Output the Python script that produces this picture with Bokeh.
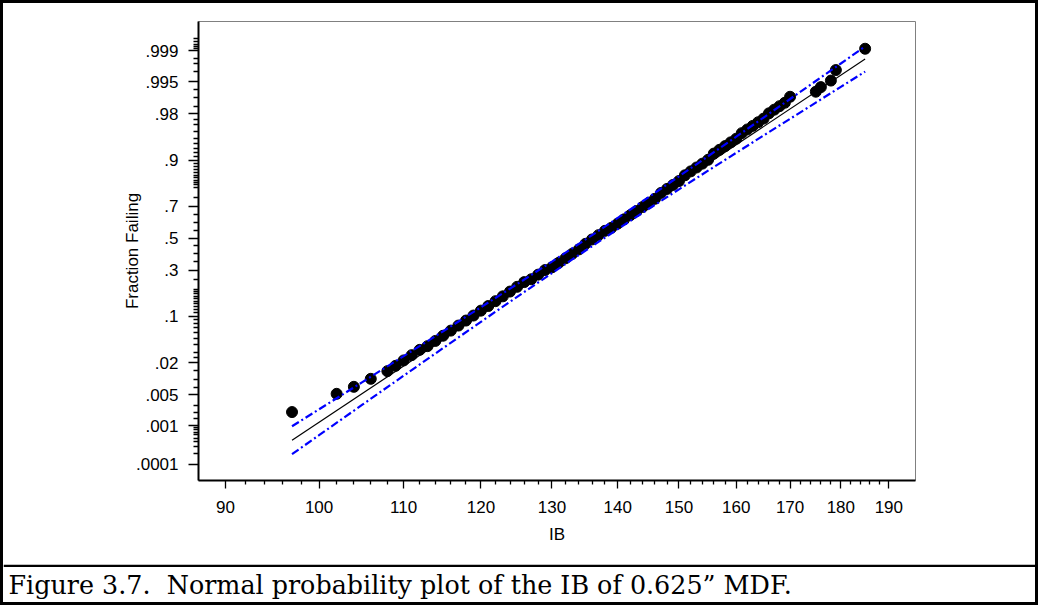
from statistics import NormalDist
from bokeh.plotting import figure
from bokeh.layouts import column
from bokeh.models import FixedTicker, Label, Range1d, Span
from bokeh.embed import file_html
from bokeh.resources import INLINE

# ---------------- data ----------------
ib = [97, 102, 104, 106,
      108, 109, 110, 111, 112, 113, 114, 115, 116, 117, 118, 119, 120,
      121, 122, 123, 124, 125, 126, 127, 128, 129, 130,
      131, 132, 133, 134, 135, 136, 137, 138, 139, 140,
      141, 142, 143, 144, 145, 146, 147, 148, 149, 150,
      151, 152, 153, 154, 155, 156, 157, 158, 159, 160,
      161, 162, 163, 164, 165, 166, 167, 168, 169, 170,
      175, 176, 178, 179, 185]
frac = [0.0021, 0.0052, 0.0072, 0.0103,
        0.0143, 0.0178, 0.0221, 0.0271, 0.0330, 0.0378, 0.0454, 0.0542, 0.0641, 0.0752, 0.0876, 0.1015, 0.1166,
        0.1322, 0.1501, 0.1694, 0.1900, 0.2119, 0.2350, 0.2496, 0.2745, 0.3003, 0.3161,
        0.3431, 0.3706, 0.3987, 0.4270, 0.4635, 0.4921, 0.5205, 0.5486, 0.5684, 0.5956,
        0.6222, 0.6480, 0.6730, 0.6970, 0.7202, 0.7422, 0.7723, 0.7917, 0.8100, 0.8271,
        0.8502, 0.8647, 0.8781, 0.8904, 0.9018, 0.9184, 0.9274, 0.9355, 0.9429, 0.9495,
        0.9583, 0.9634, 0.9679, 0.9720, 0.9756, 0.9802, 0.9829, 0.9852, 0.9872, 0.9901,
        0.9921, 0.9936, 0.9953, 0.9972, 0.9991]

fit_ib = [97, 185]
fit_frac = [0.00044, 0.99842]

band_ib = [97, 100, 105, 110, 115, 120, 125, 130, 137, 145, 150, 155, 160, 165, 170, 175, 180, 185]
upper_frac = [0.00098, 0.00242, 0.00892, 0.0261, 0.0628, 0.1278, 0.2251, 0.3505, 0.5482,
              0.7518, 0.8461, 0.9116, 0.9528, 0.9766, 0.98908, 0.99520, 0.99800, 0.99921]
lower_frac = [0.000188, 0.00059, 0.00306, 0.01179, 0.0352, 0.0843, 0.1673, 0.2830, 0.4765,
              0.6865, 0.7899, 0.8671, 0.9203, 0.9547, 0.9754, 0.98726, 0.99367, 0.99697]

x_ticks = [90, 100, 110, 120, 130, 140, 150, 160, 170, 180, 190]
y_tick_probs = [0.0001, 0.001, 0.005, 0.02, 0.1, 0.3, 0.5, 0.7, 0.9, 0.98, 0.995, 0.999]
y_tick_labels = [".0001", ".001", ".005", ".02", ".1", ".3", ".5", ".7", ".9", ".98", ".995", ".999"]
y_minor_probs = [0.0002, 0.0003, 0.0004, 0.0005, 0.0006, 0.0007, 0.0008, 0.0009,
                 0.0015, 0.002, 0.003, 0.007, 0.01, 0.015, 0.025,
                 0.03, 0.04, 0.05, 0.06, 0.07, 0.08, 0.09,
                 0.11, 0.12, 0.13, 0.14, 0.15, 0.16, 0.17, 0.18, 0.19, 0.2, 0.25,
                 0.35, 0.4, 0.45, 0.55, 0.6, 0.65, 0.75,
                 0.8, 0.81, 0.82, 0.83, 0.84, 0.85, 0.86, 0.87, 0.88, 0.89,
                 0.91, 0.92, 0.93, 0.94, 0.95, 0.96, 0.97, 0.975,
                 0.985, 0.99, 0.993, 0.997, 0.998, 0.9985,
                 0.9991, 0.9992, 0.9993, 0.9994, 0.9995]
caption = "Figure 3.7.\u00a0 Normal probability plot of the IB of 0.625\u201d MDF."

# ---------------- probability scale ----------------
nd = NormalDist()
def probit(v):
    return nd.inv_cdf(v)

p = figure(width=1032, height=561, x_axis_type="log",
           x_range=Range1d(87.3, 195.8), y_range=Range1d(-3.99, 3.57),
           output_backend="svg", toolbar_location=None, title=None,
           min_border_left=195, min_border_right=120,
           min_border_top=18, min_border_bottom=84)
p.frame_align = False
p.xgrid.visible = False
p.ygrid.visible = False
p.outline_line_color = "#808080"
p.outline_line_width = 1
p.background_fill_color = "white"
p.border_fill_color = "white"

p.scatter(ib, [probit(f) for f in frac], size=11, fill_color="black", line_color="black")
p.line(fit_ib, [probit(f) for f in fit_frac], line_color="black", line_width=1.2)
p.line(band_ib, [probit(f) for f in upper_frac], line_color="#0000ff", line_width=2.2,
       line_dash="8 3 2 3")
p.line(band_ib, [probit(f) for f in lower_frac], line_color="#0000ff", line_width=2.2,
       line_dash="8 3 2 3")

xa = p.xaxis[0]
xa.ticker = FixedTicker(ticks=x_ticks,
                        minor_ticks=[v for v in range(92, 190, 2) if v % 10 != 0])
xa.major_label_overrides = {t: str(t) for t in x_ticks}
xa.axis_line_width = 2
xa.axis_line_color = "black"
xa.major_tick_out = 8
xa.major_tick_in = 0
xa.minor_tick_out = 4
xa.minor_tick_in = 0
xa.major_tick_line_width = 1.3
xa.minor_tick_line_width = 1.3
xa.major_label_text_font = "Liberation Sans"
xa.major_label_text_font_size = "17px"
xa.major_label_text_color = "black"
xa.major_label_standoff = 12
xa.axis_label = "IB"
xa.axis_label_text_font = "Liberation Sans"
xa.axis_label_text_font_style = "normal"
xa.axis_label_text_font_size = "17px"
xa.axis_label_text_color = "black"
xa.axis_label_standoff = 9

ya = p.yaxis[0]
y_ticks = [probit(v) for v in y_tick_probs]
ya.ticker = FixedTicker(ticks=y_ticks, minor_ticks=[probit(v) for v in y_minor_probs])
ya.major_label_overrides = {t: lab for t, lab in zip(y_ticks, y_tick_labels)}
ya.axis_line_width = 2
ya.axis_line_color = "black"
ya.major_tick_out = 10
ya.major_tick_in = 0
ya.minor_tick_out = 5
ya.minor_tick_in = 0
ya.major_tick_line_width = 1.3
ya.minor_tick_line_width = 1.3
ya.major_label_text_font = "Liberation Sans"
ya.major_label_text_font_size = "17px"
ya.major_label_text_color = "black"
ya.major_label_standoff = 10
ya.axis_label = "Fraction Failing"
ya.axis_label_text_font = "Liberation Sans"
ya.axis_label_text_font_style = "normal"
ya.axis_label_text_font_size = "17px"
ya.axis_label_text_color = "black"
ya.axis_label_standoff = -9

# ---------------- caption strip ----------------
cap = figure(width=1032, height=38, x_range=Range1d(0, 1032), y_range=Range1d(0, 38),
             output_backend="svg", toolbar_location=None, title=None,
             x_axis_location=None, y_axis_location=None, min_border=0)
cap.frame_align = False
cap.xgrid.visible = False
cap.ygrid.visible = False
cap.outline_line_color = None
cap.background_fill_color = "white"
cap.border_fill_color = "white"
cap.add_layout(Span(location=36.8, dimension="width", line_color="black", line_width=2.5))
cap.add_layout(Label(x=5, y=18, text=caption, text_font="DejaVu Serif",
                     text_font_size="25.4px", text_baseline="middle", text_color="black"))

layout = column(p, cap, spacing=0, width=1032, height=599,
                styles={"border": "3px solid black", "box-sizing": "content-box"})

open("out.html", "w").write(file_html(layout, INLINE))
